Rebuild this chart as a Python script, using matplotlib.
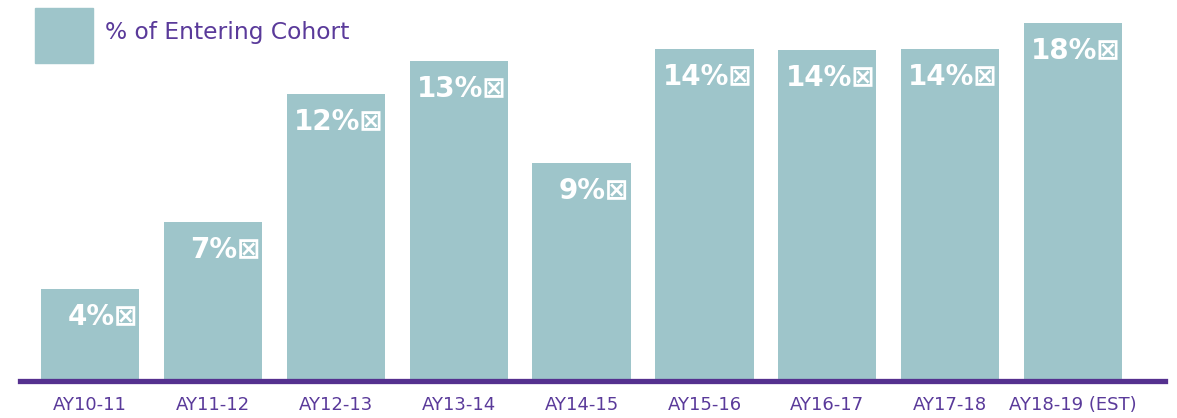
import matplotlib.pyplot as plt
from matplotlib.patches import Rectangle

years = ['AY10-11', 'AY11-12', 'AY12-13', 'AY13-14', 'AY14-15',
         'AY15-16', 'AY16-17', 'AY17-18', 'AY18-19 (EST)']
pct = [3.9, 6.7, 12.1, 13.5, 9.2, 14.0, 13.95, 14.0, 15.1]
pct_labels = ['4%', '7%', '12%', '13%', '9%', '14%', '14%', '14%', '18%']

bar_color = '#9ec5ca'
purple = '#55318f'
text_purple = '#5a3a9a'

fig = plt.figure(figsize=(11.77, 4.18), dpi=100)
ax = fig.add_axes([0.017, 0.0885, 0.973, 0.9115])

x = list(range(len(years)))
ax.bar(x, pct, width=0.8, color=bar_color)

for xi, h, lab in zip(x, pct, pct_labels):
    ax.annotate(lab + '⊠', xy=(xi + 0.4, h), xytext=(-1, -19.5),
                textcoords='offset points', ha='right', va='center',
                color='white', fontsize=20, fontweight='bold')

ax.set_xlim(-0.57, 8.75)
ax.set_ylim(0, 16.08)
ax.set_xticks(x)
ax.set_xticklabels(years, color=text_purple, fontsize=13)
ax.tick_params(axis='x', length=0, pad=11)
ax.set_yticks([])
for s in ['top', 'left', 'right']:
    ax.spines[s].set_visible(False)
ax.spines['bottom'].set_color(purple)
ax.spines['bottom'].set_linewidth(3.8)

# legend drawn by hand
fig.patches.append(Rectangle((0.0297, 0.849), 0.0493, 0.1316,
                             transform=fig.transFigure, color=bar_color))
fig.text(0.0892, 0.923, '% of Entering Cohort', color=text_purple,
         fontsize=16.8, va='center', ha='left')

fig.savefig('out.png', dpi=100)
